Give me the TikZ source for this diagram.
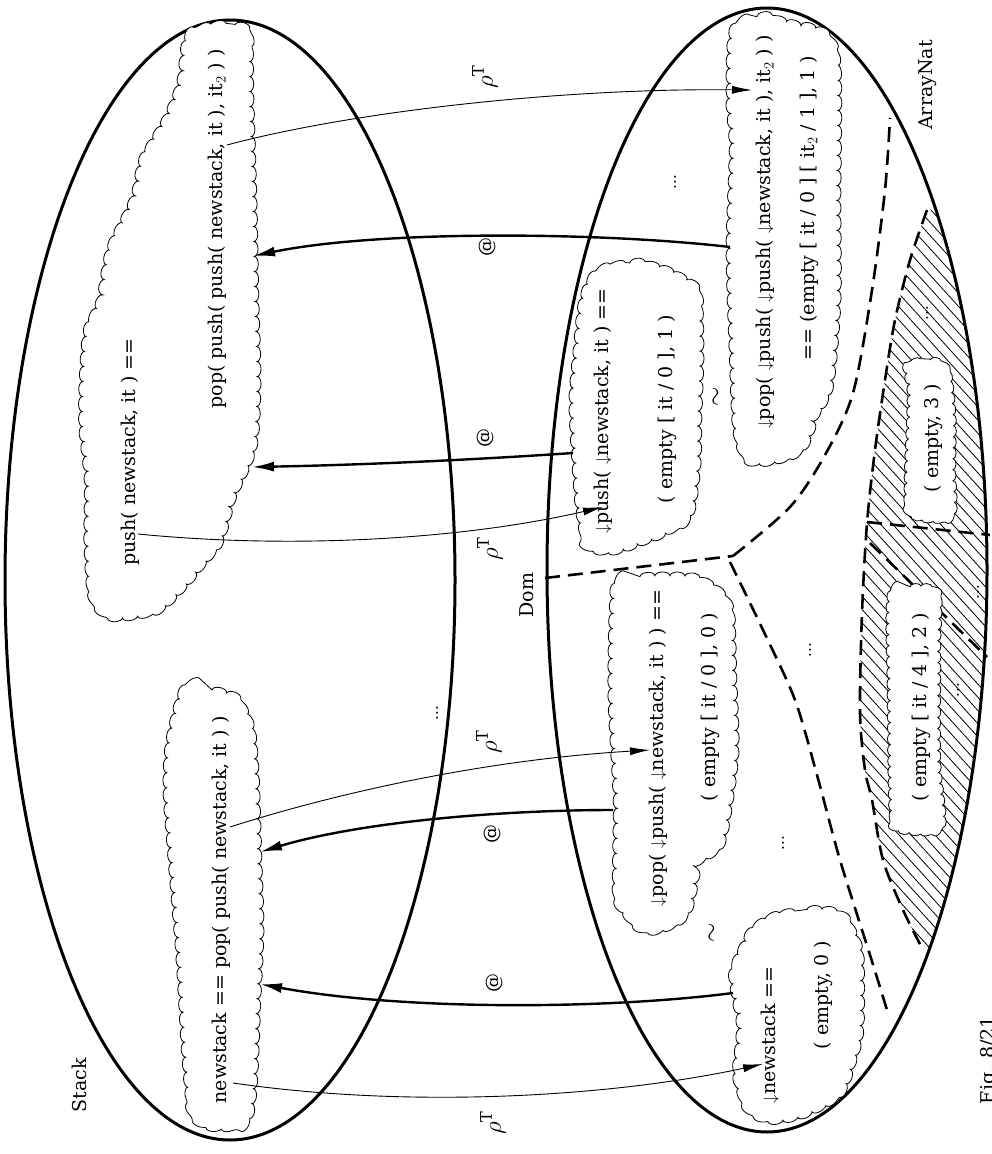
\documentclass[tikz,border=0pt]{standalone}
\usepackage{fontspec}
\setmainfont{DejaVu Serif}
\usetikzlibrary{arrows.meta,decorations.pathmorphing}
\newcommand\diagfont{\fontsize{19}{23}\selectfont}
\newcommand\mapfont{\fontsize{23}{27}\selectfont}
\newcommand\dotfont{\fontsize{15}{18}\selectfont}
\newcommand\dnarrow{$\downarrow$}
% outline of the ArrayNat algebra
\def\arrayNatOutline{(767,570) ellipse [x radius=220, y radius=562]}
\begin{document}
\begin{tikzpicture}[x=1pt,y=-1pt,
  lbl/.style={rotate=90, inner sep=0pt, font=\diagfont},
  maplbl/.style={rotate=90, inner sep=0pt, font=\mapfont},
  dotsl/.style={rotate=90, inner sep=0pt, font=\dotfont},
  outline/.style={line width=3pt},
  cloudedge/.style={line width=0.8pt, fill=white, decorate, decoration={bumps, segment length=30pt, amplitude=4pt}},
  smallcloud/.style={cloudedge, decoration={bumps, segment length=22pt, amplitude=3pt}},
  maparrow/.style={line width=0.9pt, -{Latex[length=20pt,width=8pt]}},
  evalarrow/.style={line width=2.4pt, -{Latex[length=22pt,width=10pt]}},
  border/.style={line width=2.6pt, dash pattern=on 15pt off 8pt},
  hatchline/.style={line width=0.8pt}]
\useasboundingbox (0,0) rectangle (991,1154);

% hatched part of the carrier
\begin{scope}
  \clip \arrayNatOutline;
  \clip plot[smooth] coordinates {(927,210) (910,260) (895,320) (885,380) (875,450) (867,523) (862,613) (860,713) (865,770) (872,800) (883,860) (903,910) (922,948)} -- (1100,960) -- (1100,200) -- cycle;
  \foreach \c in {-40,-28,...,830}
    \draw[hatchline] ({\c+163.6},180) -- ({\c+909.1},1000);
\end{scope}

% the two algebras
\draw[outline] (230,580) ellipse [x radius=225, y radius=560];
\draw[outline] \arrayNatOutline;

% domain borders
\coordinate (J) at (733,556);
\draw[border] (545,578) -- (J);
\draw[border] plot[smooth] coordinates {(733,556) (790,507) (825,455) (853,393) (872,290) (885,190) (890,118)};
\draw[border] plot[smooth] coordinates {(730,562) (763,630) (795,700) (817,775) (840,860) (870,955) (887,1010)};
\draw[border] plot[smooth] coordinates {(927,210) (910,260) (895,320) (885,380) (875,450) (867,523) (862,613) (860,713) (865,770) (872,800) (883,860) (903,910) (922,948)};
\draw[border] (867,522) -- (990,535);
\draw[border] (870,543) -- (987,657);

% clouds of terms
\draw[cloudedge] plot[smooth cycle] coordinates {(185,688) (212,690) (235,698) (250,725) (255,770) (258,860) (260,930) (257,1000) (253,1090) (245,1122) (213,1127) (193,1113) (186,1060) (180,960) (172,860) (167,790) (170,740)};
\draw[cloudedge] plot[smooth cycle] coordinates {(207,27) (235,25) (248,35) (250,100) (253,200) (255,300) (257,380) (253,447) (233,497) (220,540) (200,567) (183,587) (157,610) (113,617) (93,597) (88,547) (88,480) (83,430) (83,383) (87,333) (100,300) (110,250) (133,200) (143,160) (167,117) (180,83) (187,40)};
\draw[cloudedge] plot[smooth cycle] coordinates {(773,917) (807,910) (837,913) (853,933) (860,960) (860,1027) (853,1060) (840,1093) (807,1113) (773,1120) (750,1110) (737,1077) (740,1027) (733,977) (743,947) (753,930)};
\draw[cloudedge] plot[smooth cycle] coordinates {(617,583) (640,577) (690,577) (717,590) (730,613) (733,680) (735,750) (728,810) (720,845) (700,862) (688,910) (667,927) (647,930) (630,918) (617,893) (617,800) (612,700) (613,613)};
\draw[cloudedge] plot[smooth cycle] coordinates {(597,273) (630,263) (657,267) (680,277) (697,293) (700,350) (698,417) (697,463) (690,513) (670,530) (647,540) (617,550) (590,547) (580,513) (575,450) (573,400) (577,350) (583,300)};
\draw[cloudedge] plot[smooth cycle] coordinates {(733,33) (757,17) (790,23) (823,33) (837,67) (837,200) (837,300) (830,383) (817,413) (803,447) (777,460) (750,460) (737,430) (733,350) (730,250) (733,150) (730,100)};
\draw[smallcloud] plot[smooth cycle] coordinates {(907,367) (930,360) (947,370) (953,413) (953,470) (953,513) (933,520) (910,513) (907,480) (910,397)};
\draw[smallcloud] plot[smooth cycle] coordinates {(890,597) (910,587) (937,593) (938,647) (938,760) (943,820) (930,832) (900,830) (892,813) (890,693)};

% terms
\node[lbl] (tA)  at (221,910)  {newstack == pop( push( newstack, it ) )};
\node[lbl] (tB1) at (130,452)  {push( newstack, it ) ==};
\node[lbl] (tB2) at (217,229)  {pop( push( push( newstack, it ), it$_2$ ) )};
\node[lbl] (tC1) at (770,1035) {\dnarrow newstack ==};
\node[lbl] (tC2) at (823,995)  {( empty, 0 )};
\node[lbl] (tD1) at (658,748)  {\dnarrow pop( \dnarrow push( \dnarrow newstack, it ) ) ==};
\node[lbl] (tD2) at (710,707)  {( empty [ it / 0 ], 0 )};
\node[lbl] (tE1) at (603,411)  {\dnarrow push( \dnarrow newstack, it ) ==};
\node[lbl] (tE2) at (667,409)  {( empty [ it / 0 ], 1 )};
\node[lbl] (tF1) at (765,232)  {\dnarrow pop( \dnarrow push( \dnarrow push( \dnarrow newstack, it ), it$_2$ ) )};
\node[lbl] (tF2) at (809,208)  {== (empty [ it / 0 ] [ it$_2$ / 1 ], 1 )};
\node[lbl] (tG)  at (933,438)  {( empty, 3 )};
\node[lbl] (tH)  at (921,707)  {( empty [ it / 4 ], 2 )};

% congruence marks and elisions
\node[maplbl] (sim1) at (717,397) {$\sim$};
\node[maplbl] (sim2) at (713,933) {$\sim$};
\node[dotsl] (d1) at (437,713) {...};
\node[dotsl] (d2) at (675,182) {...};
\node[dotsl] (d3) at (810,650) {...};
\node[dotsl] (d4) at (783,843) {...};
\node[dotsl] (d5) at (927,313) {...};
\node[dotsl] (d6) at (978,592) {...};
\node[dotsl] (d7) at (958,690) {...};

% names
\node[lbl] (nStack) at (79,1085)  {Stack};
\node[lbl] (nArray) at (928,85)   {ArrayNat};
\node[lbl] (nDom)   at (527,595)  {Dom};
\node[lbl] (nFig)   at (990,1060) {Fig. 8/21};

% end points of the mappings
\coordinate (a1s) at (233,1083); \coordinate (a1e) at (763,1064);
\coordinate (a2s) at (230,827);  \coordinate (a2e) at (650,750);
\coordinate (a3s) at (138,534);  \coordinate (a3e) at (603,507);
\coordinate (a4s) at (227,145);  \coordinate (a4e) at (752,90);
\coordinate (e1s) at (733,993);  \coordinate (e1e) at (260,984);
\coordinate (e2s) at (613,810);  \coordinate (e2e) at (260,852);
\coordinate (e3s) at (573,453);  \coordinate (e3e) at (252,467);
\coordinate (e4s) at (730,247);  \coordinate (e4e) at (253,256);

% representation mappings
\draw[maparrow] (a1s) .. controls (420,1110) and (620,1095) .. (a1e);
\draw[maparrow] (a2s) .. controls (330,795) and (480,760) .. (a2e);
\draw[maparrow] (a3s) .. controls (300,550) and (470,538) .. (a3e);
\draw[maparrow] (a4s) .. controls (350,112) and (560,88) .. (a4e);

% evaluation mappings
\draw[evalarrow] (e1s) .. controls (600,1010) and (400,1010) .. (e1e);
\draw[evalarrow] (e2s) .. controls (500,810) and (360,822) .. (e2e);
\draw[evalarrow] (e3s) .. controls (470,460) and (360,465) .. (e3e);
\draw[evalarrow] (e4s) .. controls (600,232) and (380,230) .. (e4e);

% mapping labels
\node[maplbl] (r1) at (485,77)   {$\rho^{\mathrm{T}}$};
\node[maplbl] (r2) at (490,549)  {$\rho^{\mathrm{T}}$};
\node[maplbl] (r3) at (489,742)  {$\rho^{\mathrm{T}}$};
\node[maplbl] (r4) at (493,1123) {$\rho^{\mathrm{T}}$};
\node[lbl] (at1) at (487,247) {@};
\node[lbl] (at2) at (485,438) {@};
\node[lbl] (at3) at (492,834) {@};
\node[lbl] (at4) at (494,983) {@};
\end{tikzpicture}
\end{document}
